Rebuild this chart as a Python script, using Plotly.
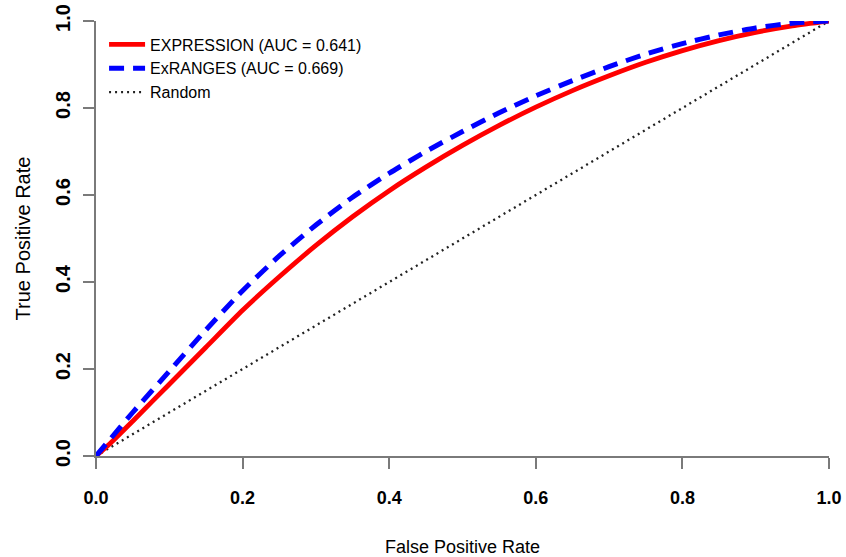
import plotly.graph_objects as go

# ROC curve points (false positive rate -> true positive rate)
fpr = [0.0, 0.02, 0.05, 0.10, 0.15, 0.20, 0.25, 0.30, 0.35, 0.40, 0.45,
       0.50, 0.55, 0.60, 0.65, 0.70, 0.75, 0.80, 0.85, 0.90, 0.95, 1.0]
tpr_expression = [0.0, 0.03, 0.08, 0.165, 0.25, 0.335, 0.412, 0.484, 0.55, 0.61, 0.664,
                  0.714, 0.76, 0.802, 0.84, 0.874, 0.905, 0.932, 0.955, 0.974, 0.989, 1.0]
tpr_exranges = [0.0, 0.04, 0.10, 0.195, 0.29, 0.38, 0.46, 0.531, 0.595, 0.65, 0.70,
                0.746, 0.789, 0.828, 0.863, 0.895, 0.924, 0.948, 0.968, 0.984, 0.995, 1.0]
random_x = [0.0, 1.0]
random_y = [0.0, 1.0]

names = ["EXPRESSION (AUC = 0.641)", "ExRANGES (AUC = 0.669)", "Random"]
tick_vals = [0.0, 0.2, 0.4, 0.6, 0.8, 1.0]
tick_text = ["0.0", "0.2", "0.4", "0.6", "0.8", "1.0"]

FONT = "Liberation Sans, Arial, Helvetica, sans-serif"
AXIS_GRAY = "#7a7a7a"

fig = go.Figure()
fig.add_trace(go.Scatter(x=random_x, y=random_y, mode="lines", name=names[2],
                         legendrank=3,
                         line=dict(color="#222222", width=2.3, dash="2px,4px")))
fig.add_trace(go.Scatter(x=fpr, y=tpr_expression, mode="lines", name=names[0],
                         legendrank=1, line_shape="spline", line_smoothing=0.6,
                         line=dict(color="#ff0000", width=4.8)))
fig.add_trace(go.Scatter(x=fpr, y=tpr_exranges, mode="lines", name=names[1],
                         legendrank=2, line_shape="spline", line_smoothing=0.6,
                         line=dict(color="#0000ff", width=5, dash="15px,9px")))

fig.update_layout(
    width=846, height=557,
    margin=dict(l=96, r=17, t=21, b=101),
    paper_bgcolor="white", plot_bgcolor="white",
    font=dict(family=FONT, color="black"),
    showlegend=True,
    legend=dict(x=0.011, y=0.985, xanchor="left", yanchor="top",
                bgcolor="rgba(0,0,0,0)", borderwidth=0, itemwidth=36,
                font=dict(size=16, family=FONT), tracegroupgap=0),
    xaxis=dict(range=[0, 1], tickvals=tick_vals, ticktext=tick_text,
               automargin=False,
               showgrid=False, zeroline=False, showline=True,
               linecolor=AXIS_GRAY, linewidth=1.5,
               ticks="outside", ticklen=11, tickwidth=1.5, tickcolor=AXIS_GRAY,
               tickfont=dict(size=18, family=FONT, weight="bold"),
               ticklabelstandoff=14,
               title=dict(text="False Positive Rate", standoff=35,
                          font=dict(size=18, family=FONT))),
    yaxis=dict(range=[0, 1], tickvals=tick_vals, ticktext=tick_text,
               automargin=False,
               showgrid=False, zeroline=False, showline=True,
               linecolor=AXIS_GRAY, linewidth=1.5,
               ticks="outside", ticklen=11, tickwidth=1.5, tickcolor=AXIS_GRAY,
               tickangle=-90,
               tickfont=dict(size=20, family=FONT, weight="bold"),
               ticklabelstandoff=5,
               title=dict(text="True Positive Rate", standoff=16,
                          font=dict(size=20, family=FONT))),
)

fig.write_html("out.html")
